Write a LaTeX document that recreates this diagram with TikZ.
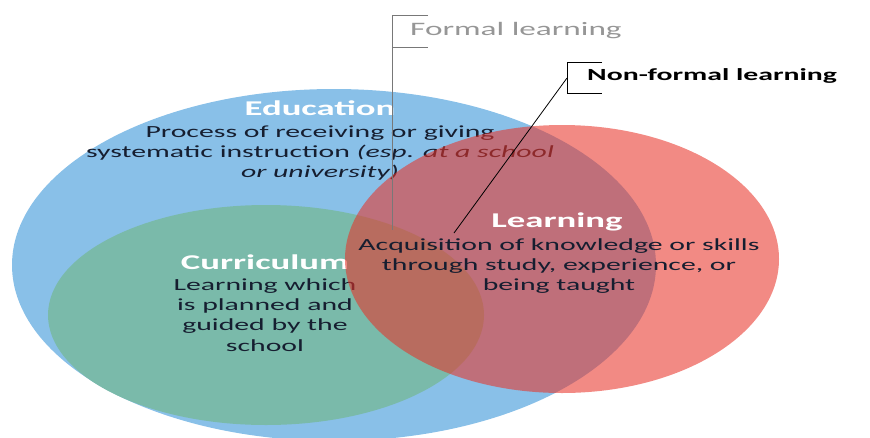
\documentclass[tikz,border=0pt]{standalone}
\usepackage{fontspec}
\setmainfont{Carlito}[FakeStretch=1.75]
\definecolor{edublue}{RGB}{137,192,232}
\definecolor{curgreen}{RGB}{122,186,170}
\definecolor{learnred}{RGB}{232,50,39}
\definecolor{textdark}{RGB}{22,30,48}
\definecolor{labelgray}{RGB}{150,150,150}
\begin{document}
\begin{tikzpicture}[x=1pt, y=-1pt,
        title/.style={text=white, inner sep=0pt, font=\fontsize{21}{23}\selectfont\bfseries},
        body/.style={text=textdark, inner sep=0pt, align=center, font=\fontsize{17}{20.3}\selectfont},
        callout/.style={inner sep=0pt, font=\fontsize{19}{21}\selectfont}]
        \useasboundingbox (0,0) rectangle (870,437) ;
        \fill[edublue] (334,265) ellipse [x radius=322, y radius=176] ;
        \node[title] (edu) at (320,108) {Education} ;
        \node[body] (edutext) at (320,153) {Process of receiving or giving\\systematic instruction \textit{(esp. at a school}\\\textit{or university)}} ;
        \fill[curgreen] (266,315) ellipse [x radius=218, y radius=110] ;
        \node[title] (cur) at (265,262) {Curriculum} ;
        \node[body] (curtext) at (265,315) {Learning which\\is planned and\\guided by the\\school} ;
        \fill[learnred, fill opacity=0.57] (562,259) ellipse [x radius=217, y radius=134] ;
        \node[title] (learn) at (557,222) {Learning} ;
        \node[body] (learntext) at (559,266) {Acquisition of knowledge or skills\\through study, experience, or\\being taught} ;
        \node[callout, text=labelgray, anchor=west] (formal) at (410,31) {Formal learning} ;
        \node[callout, text=black, anchor=west, font=\fontsize{17}{20}\selectfont\bfseries] (nonformal) at (587,76) {Non-formal learning} ;
        \coordinate (fltop) at (392,15) ;
        \coordinate (fltip) at (428,15) ;
        \coordinate (flmid) at (392,47) ;
        \coordinate (flmidtip) at (428,47) ;
        \coordinate (flend) at (392,230) ;
        \draw[labelgray!80!black, line width=1pt] (fltip) -- (fltop) -- (flend) ;
        \draw[labelgray!80!black, line width=1pt] (flmid) -- (flmidtip) ;
        \coordinate (nftop) at (567,62) ;
        \coordinate (nftip) at (602,62) ;
        \coordinate (nfbot) at (567,93) ;
        \coordinate (nfbottip) at (602,93) ;
        \coordinate (nfmid) at (567,78) ;
        \coordinate (nfend) at (454,233) ;
        \draw[black, line width=0.8pt] (nftip) -- (nftop) -- (nfbot) -- (nfbottip) ;
        \draw[black, line width=0.8pt] (nfmid) -- (nfend) ;
\end{tikzpicture}
\end{document}
